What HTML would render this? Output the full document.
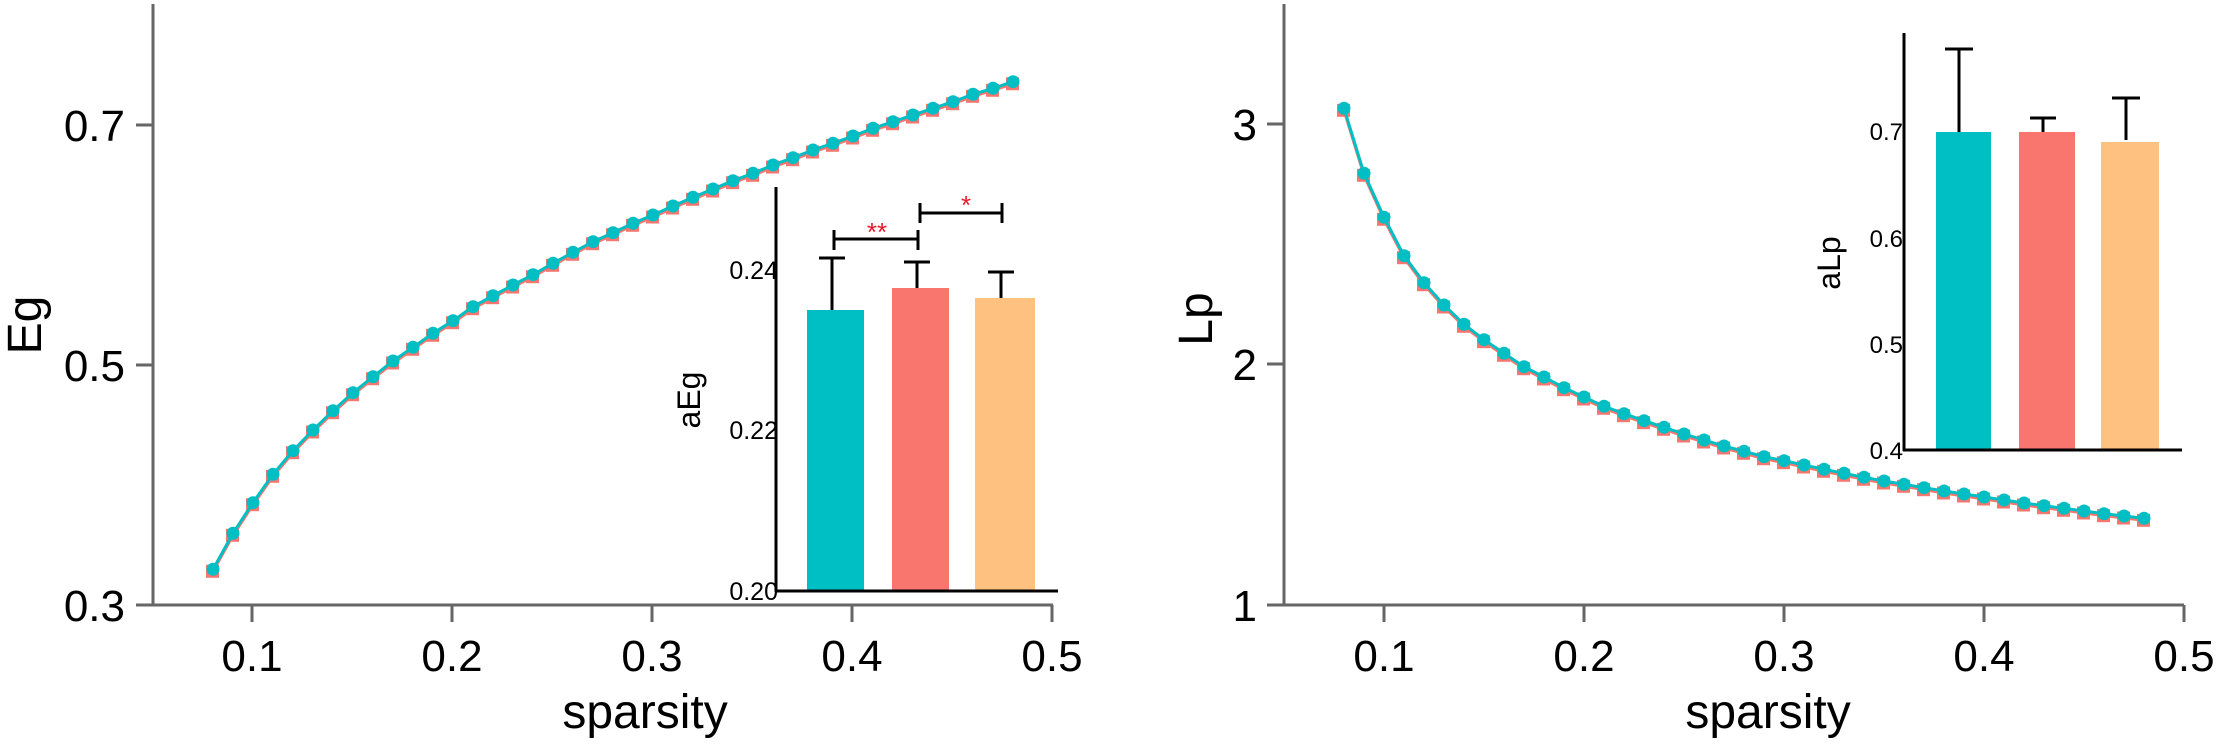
<!DOCTYPE html>
<html><head><meta charset="utf-8"><style>
html,body{margin:0;padding:0;background:#fff;}
svg{display:block;font-family:"Liberation Sans",Arial,sans-serif;}
</style></head><body>
<svg id="s" width="2221" height="744" viewBox="0 0 2221 744" xmlns="http://www.w3.org/2000/svg">
<g stroke="#666" stroke-width="3" fill="none">
<line x1="153" y1="4" x2="153" y2="606"/>
<line x1="152" y1="605" x2="1053" y2="605"/>
<line x1="136" y1="125" x2="153" y2="125"/>
<line x1="136" y1="365" x2="153" y2="365"/>
<line x1="136" y1="605" x2="153" y2="605"/>
<line x1="252" y1="605" x2="252" y2="622"/>
<line x1="452" y1="605" x2="452" y2="622"/>
<line x1="652" y1="605" x2="652" y2="622"/>
<line x1="852" y1="605" x2="852" y2="622"/>
<line x1="1052" y1="605" x2="1052" y2="622"/>
<line x1="1284" y1="4" x2="1284" y2="606"/>
<line x1="1283" y1="605" x2="2184" y2="605"/>
<line x1="1267" y1="124" x2="1284" y2="124"/>
<line x1="1267" y1="364" x2="1284" y2="364"/>
<line x1="1267" y1="605" x2="1284" y2="605"/>
<line x1="1384" y1="605" x2="1384" y2="622"/>
<line x1="1584" y1="605" x2="1584" y2="622"/>
<line x1="1784" y1="605" x2="1784" y2="622"/>
<line x1="1984" y1="605" x2="1984" y2="622"/>
<line x1="2184" y1="605" x2="2184" y2="622"/>
</g>
<g font-size="44" fill="#000">
<text x="125" y="141" text-anchor="end">0.7</text>
<text x="125" y="381" text-anchor="end">0.5</text>
<text x="125" y="621" text-anchor="end">0.3</text>
<g text-anchor="middle">
<text x="252" y="671">0.1</text><text x="452" y="671">0.2</text><text x="652" y="671">0.3</text><text x="852" y="671">0.4</text><text x="1052" y="671">0.5</text>
<text x="1384" y="671">0.1</text><text x="1584" y="671">0.2</text><text x="1784" y="671">0.3</text><text x="1984" y="671">0.4</text><text x="2184" y="671">0.5</text>
</g>
<text x="1257" y="140" text-anchor="end">3</text>
<text x="1257" y="380" text-anchor="end">2</text>
<text x="1257" y="621" text-anchor="end">1</text>
</g>
<g font-size="48" fill="#000" text-anchor="middle">
<text x="645" y="728">sparsity</text>
<text x="1768" y="728">sparsity</text>
<text transform="translate(41,325) rotate(-90)">Eg</text>
<text transform="translate(1212,319) rotate(-90)">Lp</text>
</g>
<g id="curves"></g>

<rect x="807" y="310" width="57" height="281" fill="#00BFC4"/>
<rect x="892" y="288" width="57" height="303" fill="#F8766D"/>
<rect x="975" y="298" width="60" height="293" fill="#FFC17F"/>
<g stroke="#000" stroke-width="3" fill="none">
<line x1="776" y1="187" x2="776" y2="592"/>
<line x1="775" y1="591" x2="1058" y2="591"/>
<line x1="832" y1="258" x2="832" y2="310"/><line x1="819" y1="258" x2="845" y2="258"/>
<line x1="917" y1="262" x2="917" y2="288"/><line x1="904" y1="262" x2="930" y2="262"/>
<line x1="1001" y1="272" x2="1001" y2="298"/><line x1="988" y1="272" x2="1014" y2="272"/>
<line x1="834" y1="239" x2="918" y2="239"/><line x1="834" y1="230" x2="834" y2="250"/><line x1="918" y1="230" x2="918" y2="250"/>
<line x1="920" y1="213" x2="1002" y2="213"/><line x1="920" y1="203" x2="920" y2="223"/><line x1="1002" y1="203" x2="1002" y2="223"/>
</g>
<g fill="#E8192C" font-size="26" text-anchor="middle">
<text x="877" y="241">**</text>
<text x="966" y="214">*</text>
</g>
<g font-size="25" fill="#000" text-anchor="end">
<text x="778" y="279">0.24</text>
<text x="778" y="439">0.22</text>
<text x="778" y="600">0.20</text>
</g>
<text transform="translate(700,400) rotate(-90)" font-size="32" text-anchor="middle">aEg</text>

<rect x="1936" y="132" width="55" height="318" fill="#00BFC4"/>
<rect x="2019" y="132" width="56" height="318" fill="#F8766D"/>
<rect x="2101" y="142" width="58" height="308" fill="#FFC17F"/>
<g stroke="#000" stroke-width="3" fill="none">
<line x1="1904" y1="33" x2="1904" y2="451"/>
<line x1="1903" y1="450" x2="2182" y2="450"/>
<line x1="1959" y1="49" x2="1959" y2="132"/><line x1="1945" y1="49" x2="1973" y2="49"/>
<line x1="2043" y1="118" x2="2043" y2="132"/><line x1="2030" y1="118" x2="2056" y2="118"/>
<line x1="2126" y1="98" x2="2126" y2="140"/><line x1="2112" y1="98" x2="2140" y2="98"/>
</g>
<g font-size="24" fill="#000" text-anchor="end">
<text x="1903" y="140">0.7</text>
<text x="1903" y="247">0.6</text>
<text x="1903" y="353">0.5</text>
<text x="1903" y="459">0.4</text>
</g>
<text transform="translate(1840,263) rotate(-90)" font-size="32" text-anchor="middle">aLp</text>
</svg>
<script>
(function(){
var g=document.getElementById('curves');
function L(ys,o){
 var pr='',pt='',sq='',ci='';
 for(var i=0;i<ys.length;i++){
  var x=o+(0.03+i*0.01)*2000,y=ys[i];
  pr+=(i?'L':'M')+x.toFixed(1)+' '+(y+2).toFixed(1);
  pt+=(i?'L':'M')+x.toFixed(1)+' '+y.toFixed(1);
  sq+='<rect x="'+(x-7).toFixed(1)+'" y="'+(y-4.5).toFixed(1)+'" width="13" height="13" fill="#F8766D"/>';
  ci+='<circle cx="'+x.toFixed(1)+'" cy="'+y.toFixed(1)+'" r="6.5" fill="#00BFC4"/>';
 }
 return '<path d="'+pr+'" stroke="#F8766D" stroke-width="3" fill="none"/>'+sq+
  '<path d="'+pt+'" stroke="#00BFC4" stroke-width="3" fill="none"/>'+ci;
}
var e=[569.3,533.3,502.7,474.3,450.7,430,410.7,392.7,376.7,361,347.3,333.3,320.7,306.7,295.7,285,274.7,263.3,252.3,241.7,232.7,223.3,215,206,
197.3,189,180.7,173.3,165,157.7,150,143.3,136,128.3,121.7,115,108.3,101.7,94.3,88.3,81.7];
var l=[108.3,173.3,217.3,255.7,282.7,305,324.3,339.7,353.3,366.7,377,387.7,397,406.3,413.7,420.7,427.3,434,440,446,451.3,456.7,460.7,
465,469.3,473.3,477.3,481,484.3,487.7,491,494,497,500,503,505.7,508.3,511,513.7,516,518.3];
g.innerHTML=L(e,153)+L(l,1284);
})();
</script>
</body></html>
